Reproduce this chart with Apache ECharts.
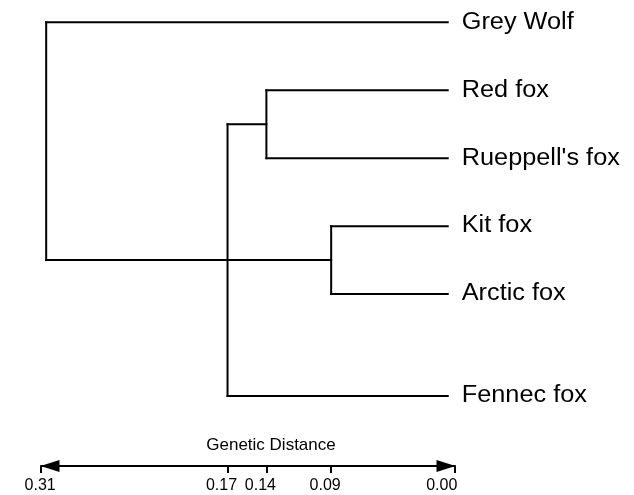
<!DOCTYPE html>
<html><head><meta charset="utf-8">
<script src="https://cdn.jsdelivr.net/npm/echarts@6/dist/echarts.min.js"></script>
<style>html,body{margin:0;padding:0;background:#fff}#c{width:634px;height:495px}</style>
</head><body><div id="c"></div>
<script>
// ---- data ----
const leafNames = ['Grey Wolf', 'Red fox', "Rueppell's fox", 'Kit fox', 'Arctic fox', 'Fennec fox'];
const leafSlots = [0, 1, 2, 3, 4, 5.5];            // vertical slot of each leaf as drawn
const clusterNames = ['redRueppell', 'kitArctic', 'foxes', 'root'];
const clusterHeights = [0.14, 0.09, 0.17, 0.31];    // genetic distance of each join
const clusterChildren = [
  ['Red fox', "Rueppell's fox"],
  ['Kit fox', 'Arctic fox'],
  ['redRueppell', 'kitArctic', 'Fennec fox'],
  ['Grey Wolf', 'foxes']
];
const tickValues = [0.31, 0.17, 0.14, 0.09, 0.00];
const axisTitle = 'Genetic Distance';

// ---- layout constants ----
const xLow = -0.0056, xHigh = 0.314;  // axis line extends a little beyond the tree
const ink = '#000';

// ---- derive dendrogram segments ----
const pos = {};
leafNames.forEach((n, i) => { pos[n] = { x: 0, y: leafSlots[i] }; });
const segs = [];
clusterNames.forEach((n, i) => {
  const h = clusterHeights[i];
  const ys = clusterChildren[i].map(c => pos[c].y);
  clusterChildren[i].forEach(c => segs.push([h, pos[c].y, pos[c].x, pos[c].y]));
  segs.push([h, Math.min(...ys), h, Math.max(...ys)]);
  pos[n] = { x: h, y: ys.reduce((a, b) => a + b, 0) / ys.length };
});
const leafData = leafNames.map((n, i) => [0, leafSlots[i], n]);

const chart = echarts.init(document.getElementById('c'), null, { renderer: 'canvas' });
chart.setOption({
  animation: false,
  backgroundColor: '#fff',
  grid: { left: 41, right: 179, top: 22.3, bottom: 99 },
  xAxis: {
    type: 'value', inverse: true, min: xLow, max: xHigh,
    position: 'bottom', offset: 70,
    splitLine: { show: false },
    axisLine: {
      show: true, onZero: false,
      symbol: ['triangle', 'triangle'], symbolSize: [12, 19], symbolOffset: [9, -9],
      lineStyle: { color: ink, width: 2 }
    },
    axisTick: {
      show: true, length: 7, inside: false,
      customValues: [xHigh, 0.17, 0.14, 0.09, xLow],
      lineStyle: { color: ink, width: 2 }
    },
    axisLabel: {
      show: true, margin: 12,
      customValues: tickValues,
      formatter: v => '{t|' + v.toFixed(2) + '}',
      rich: { t: { fontFamily: 'Liberation Sans', fontSize: 16, color: ink, padding: [0, 12, 0, 0] } }
    }
  },
  yAxis: { type: 'value', inverse: true, min: 0, max: 5.5, show: false },
  graphic: [{
    type: 'text', x: 271, y: 445,
    style: { text: axisTitle, font: '17px "Liberation Sans"', fill: ink, align: 'center', verticalAlign: 'middle' }
  }],
  series: [
    {
      type: 'custom', data: segs, silent: true,
      renderItem: (params, api) => {
        const p1 = api.coord([api.value(0), api.value(1)]);
        const p2 = api.coord([api.value(2), api.value(3)]);
        return { type: 'line', shape: { x1: p1[0], y1: p1[1], x2: p2[0], y2: p2[1] },
                 style: { stroke: ink, lineWidth: 2, lineCap: 'square' } };
      }
    },
    {
      type: 'custom', data: leafData, silent: true,
      renderItem: (params, api) => {
        const p = api.coord([api.value(0), api.value(1)]);
        return { type: 'text', x: p[0] + 14, y: p[1], scaleX: 1.1,
                 style: { text: leafData[params.dataIndex][2], font: '23px "Liberation Sans"', fill: ink,
                          align: 'left', verticalAlign: 'middle' } };
      }
    }
  ]
});
</script></body></html>
